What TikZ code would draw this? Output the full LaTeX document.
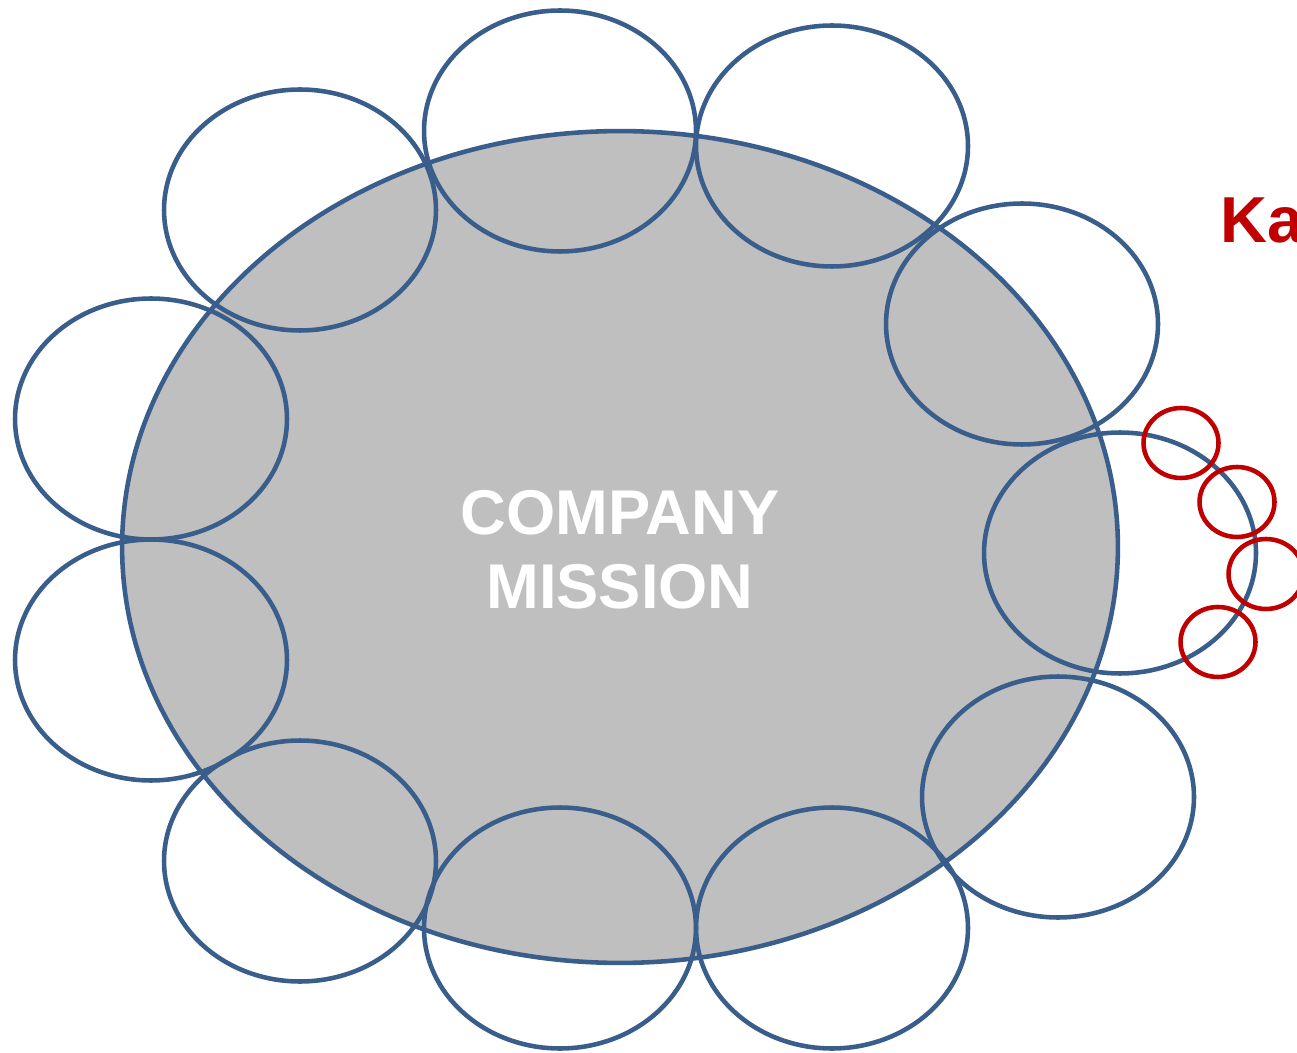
\documentclass[tikz,border=0pt]{standalone}
\usepackage{fontspec}
\setmainfont{Liberation Sans}
\usetikzlibrary{shapes.geometric}
\definecolor{petalblue}{HTML}{3A5E8C}
\definecolor{coregray}{HTML}{BFBFBF}
\definecolor{kared}{HTML}{C00000}

\begin{document}
\begin{tikzpicture}[x=0.02cm,y=-0.02cm,line width=2.6pt]
	\tikzset{
		core/.style={ellipse,draw=petalblue,fill=coregray,minimum width=19.92cm,minimum height=16.64cm,inner sep=0pt},
		petal/.style={ellipse,draw=petalblue,minimum width=5.44cm,minimum height=4.82cm,inner sep=0pt},
		bud/.style={ellipse,draw=kared,minimum width=1.5cm,minimum height=1.4cm,inner sep=0pt}
	}
	\useasboundingbox (0,0) rectangle (1297,1053);
	\node (mission) at (620,547) [core] {};
	\foreach \px/\py [count=\i] in {300/210, 560/131, 832/146, 1022/324, 1120/553, 1058/797, 832/928, 560/928, 300/861, 151/660, 151/419}
		\node (petal\i) at (\px,\py) [petal] {};
	\foreach \bx/\by [count=\j] in {1181/443, 1237/502, 1266/574, 1218/642}
		\node (bud\j) at (\bx,\by) [bud] {};
	\node (title) at (620,550) [text=white,font=\fontsize{36}{42}\selectfont\bfseries,align=center] {COMPANY\\MISSION};
	\node (ka) at (1218,243) [anchor=base west,inner sep=0pt,text=kared,font=\fontsize{37}{40}\selectfont\bfseries] {Ka};
\end{tikzpicture}
\end{document}
